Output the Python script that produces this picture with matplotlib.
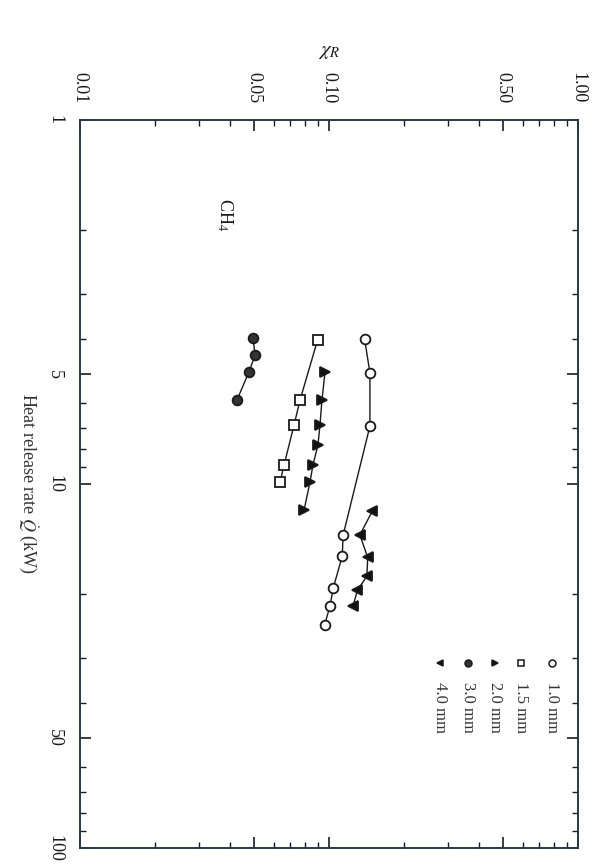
import matplotlib
matplotlib.use("Agg")
import matplotlib.pyplot as plt
from matplotlib.ticker import FixedLocator, NullFormatter

plt.rcParams['font.family'] = ['Liberation Serif', 'DejaVu Serif']
plt.rcParams['mathtext.fontset'] = 'stix'

# Data (chi_R vs heat release rate Q, kW)
labels = ["1.0 mm", "1.5 mm", "2.0 mm", "3.0 mm", "4.0 mm"]
q_10 = [4.0, 4.95, 6.93, 13.8, 15.8, 19.3, 21.6, 24.4]
chi_10 = [0.139, 0.146, 0.146, 0.114, 0.113, 0.104, 0.101, 0.096]
q_15 = [4.02, 5.88, 6.88, 8.87, 9.87]
chi_15 = [0.090, 0.0765, 0.0724, 0.066, 0.0636]
q_20 = [4.92, 5.88, 6.88, 7.81, 8.87, 9.87, 11.8]
chi_20 = [0.0964, 0.0937, 0.092, 0.0903, 0.0862, 0.0839, 0.0794]
q_30 = [3.97, 4.42, 4.92, 5.88]
chi_30 = [0.0495, 0.0505, 0.0477, 0.0427]
q_40 = [11.9, 13.8, 15.9, 17.9, 19.6, 21.6]
chi_40 = [0.149, 0.133, 0.143, 0.142, 0.130, 0.125]

q_ticks = [1, 5, 10, 50, 100]
q_ticklabels = ["1", "5", "10", "50", "100"]
chi_ticks = [0.01, 0.05, 0.10, 0.50, 1.00]
chi_ticklabels = ["0.01", "0.05", "0.10", "0.50", "1.00"]

series = [
    (q_10, chi_10, dict(marker='o', mfc='white', ms=7)),
    (q_15, chi_15, dict(marker='s', mfc='white', ms=7)),
    (q_20, chi_20, dict(marker='>', mfc='#111', ms=7)),
    (q_30, chi_30, dict(marker='o', mfc='#333', ms=7)),
    (q_40, chi_40, dict(marker='<', mfc='#111', ms=7)),
]

fig = plt.figure(figsize=(5.97, 8.67), dpi=100)
ax = fig.add_axes([80/597, 1-848/867, (578-80)/597, (848-120)/867])

ink = '#1a1a1a'
for q, c, st in series:
    ax.plot(c, q, color=ink, lw=1.0, mec=ink, mew=1.3, **st)

ax.set_xscale('log')
ax.set_yscale('log')
ax.set_xlim(0.01, 1.0)
ax.set_ylim(100, 1)

ax.xaxis.set_major_locator(FixedLocator(chi_ticks))
ax.set_xticklabels(chi_ticklabels, rotation=-90)
minx = [k*10**e for e in (-2, -1) for k in range(2, 10) if round(k*10**e, 4) not in chi_ticks]
ax.xaxis.set_minor_locator(FixedLocator(minx))
ax.xaxis.set_minor_formatter(NullFormatter())

ax.yaxis.set_major_locator(FixedLocator(q_ticks))
ax.set_yticklabels(q_ticklabels, rotation=-90, va='center')
miny = [k*10**e for e in (0, 1) for k in range(2, 10) if k*10**e not in q_ticks]
ax.yaxis.set_minor_locator(FixedLocator(miny))
ax.yaxis.set_minor_formatter(NullFormatter())

ax.tick_params(which='both', direction='in', top=True, bottom=True, left=True, right=True,
               labeltop=True, labelbottom=False, labelleft=True, labelright=False,
               colors=ink, labelsize=13)
ax.tick_params(which='major', length=8, width=1.2)
ax.tick_params(which='minor', length=4, width=1.0)
ax.tick_params(axis='x', which='major', pad=12)
ax.tick_params(axis='y', which='major', pad=12)
for s in ax.spines.values():
    s.set_color('#2a3a44')
    s.set_linewidth(1.4)

ax.xaxis.set_label_position('top')
ax.set_xlabel(r'$\chi_R$', fontsize=15, labelpad=12, color=ink)
ax.set_ylabel(r'Heat release rate $\dot{Q}$ (kW)', rotation=-90, fontsize=13,
              labelpad=22, color='#333')

ax.text(0.0382, 1.82, r'CH$_4$', rotation=-90, fontsize=13, ha='center', va='center', color=ink)

# Manual rotated legend
leg_x = [(552-80)/498, (521-80)/498, (495-80)/498, (468-80)/498, (440-80)/498]
for (q, c, st), lab, lx in zip(series, labels, leg_x):
    st2 = dict(st)
    st2['ms'] = 5
    ax.plot([lx], [0.254], transform=ax.transAxes, ls='none', mec=ink, mew=1.1,
            color=ink, clip_on=False, **st2)
    ax.text(lx, 0.228, lab, transform=ax.transAxes, rotation=-90, ha='center', va='top',
            fontsize=12, color='#333')

fig.savefig('out.png', dpi=100)
